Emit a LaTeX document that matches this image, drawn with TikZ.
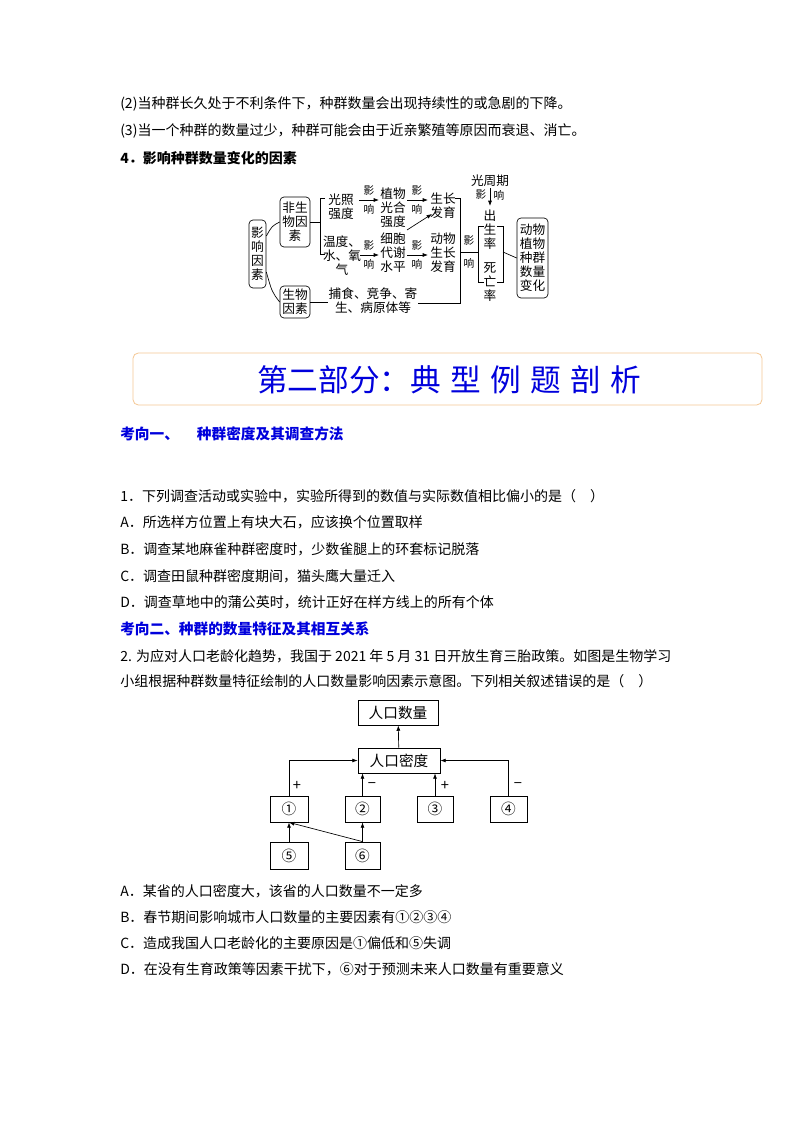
\documentclass[tikz,border=0pt]{standalone}
\usepackage{fontspec}
\setmainfont{Noto Sans CJK SC}
\usetikzlibrary{arrows.meta}
\definecolor{qblue}{RGB}{0,0,220}
\definecolor{bord}{RGB}{245,200,150}
\begin{document}
\begin{tikzpicture}[x=0.75pt,y=-0.75pt,
 body/.style={anchor=west,inner sep=0pt,font=\fontsize{10.5pt}{12pt}\selectfont},
 dg/.style={inner sep=0pt,align=center,font=\fontsize{9.5pt}{10.5pt}\selectfont},
 sm/.style={inner sep=0pt,font=\fontsize{8pt}{9pt}\selectfont},
 rb/.style={draw,rounded corners=3pt,line width=0.5pt,inner sep=0pt},
 bx/.style={draw,line width=0.6pt,minimum width=#1,minimum height=25*0.75pt,inner sep=0pt,font=\fontsize{11pt}{12pt}\selectfont},
 ar/.style={-{Latex[length=4pt,width=3pt]},line width=0.5pt},
 ln/.style={line width=0.5pt},
 pm/.style={inner sep=0pt,font=\fontsize{11pt}{12pt}\selectfont}]
\useasboundingbox (0,0) rectangle (800,1132);
\fill[white] (0,0) rectangle (800,1132);
\node[body] (l1) at (120,104) {(2)当种群长久处于不利条件下，种群数量会出现持续性的或急剧的下降。};
\node[body] (l2) at (120,131) {(3)当一个种群的数量过少，种群可能会由于近亲繁殖等原因而衰退、消亡。};
\node[body,font=\fontsize{10.5pt}{12pt}\selectfont\bfseries] (l3) at (120,158) {4．影响种群数量变化的因素};
% diagram 1
\node[rb,minimum width=17*0.75pt,minimum height=68*0.75pt,dg] (yx) at (257.5,254) {影\\响\\因\\素};
\node[rb,minimum width=30*0.75pt,minimum height=50*0.75pt,dg] (fs) at (295,222) {非生\\物因\\素};
\node[rb,minimum width=30*0.75pt,minimum height=32*0.75pt,dg] (sw) at (295,302) {生物\\因素};
\draw[ln] (yx.east) ++(0,-18) .. controls (272,226) .. (fs.west);
\draw[ln] (yx.east) ++(0,18) .. controls (272,292) .. (sw.west);
\coordinate (b1t) at (320,198); \coordinate (b1b) at (320,254);
\draw[ln] (fs.east) -- (320,222);
\draw[ln] (325,198) -- (b1t) -- (b1b) -- (325,254);
\node[dg] (gz) at (341,207) {光照\\强度};
\node[dg,anchor=north] (wd) at (342,236) {温度、\\水、氧\\气};
\node[dg] (zw) at (393,208) {植物\\光合\\强度};
\node[dg] (xb) at (393,253) {细胞\\代谢\\水平};
\node[dg] (sz) at (443,206) {生长\\发育};
\node[dg] (dw) at (443,253) {动物\\生长\\发育};
\draw[ar] (359,200) -- (379,200);
\node[sm] at (369,191) {影}; \node[sm] at (369,209) {响};
\draw[ar] (407,200) -- (428,200);
\node[sm] at (417,191) {影}; \node[sm] at (417,209) {响};
\draw[ar] (360,255) -- (379,255);
\node[sm] at (369,246) {影}; \node[sm] at (369,264) {响};
\draw[ar] (407,255) -- (428,255);
\node[sm] at (417,246) {影}; \node[sm] at (417,264) {响};
\draw[ar] (407,230) -- (432,214);
\node[dg] (bs) at (373,301) {捕食、竞争、寄\\生、病原体等};
\draw[ln] (sw.east) -- (328,302);
\draw[ln] (455,198) -- (460,198) -- (460,303) -- (418,303);
\coordinate (j1) at (460,252);
\draw[ln] (j1) -- (478,252);
\node[sm] at (469,241) {影}; \node[sm] at (469,263) {响};
\draw[ln] (484,226) -- (478,226) -- (478,282) -- (484,282);
\draw[ln] (497,226) -- (503,226) -- (503,282) -- (497,282);
\node[dg] (cs) at (490,230) {出\\生\\率};
\node[dg] (sw2) at (490,282) {死\\亡\\率};
\node[dg] (gzq) at (490,181) {光周期};
\node[sm] at (481,195) {影}; \node[sm] at (499,195) {响};
\draw[ar] (490,188) -- (490,206);
\node[rb,minimum width=31*0.75pt,minimum height=80*0.75pt,dg] (dz) at (532.5,258) {动物\\植物\\种群\\数量\\变化};
\draw[ln] (503,252) -- (dz.west);
% banner
\draw[bord,rounded corners=4pt,line width=0.6pt] (133,353) rectangle (762,405);
\node[text=qblue,font=\fontsize{23pt}{26pt}\selectfont] (ban) at (449,380) {第二部分：典\hspace{7pt}型\hspace{7pt}例\hspace{7pt}题\hspace{7pt}剖\hspace{7pt}析};
\node[body,text=qblue,font=\fontsize{11pt}{12pt}\selectfont\bfseries] (k1) at (120,434) {考向一、\quad\ 种群密度及其调查方法};
\node[body] (q1) at (120,496) {1．下列调查活动或实验中，实验所得到的数值与实际数值相比偏小的是（\quad）};
\node[body] (q1a) at (120,522) {A．所选样方位置上有块大石，应该换个位置取样};
\node[body] (q1b) at (120,549) {B．调查某地麻雀种群密度时，少数雀腿上的环套标记脱落};
\node[body] (q1c) at (120,576) {C．调查田鼠种群密度期间，猫头鹰大量迁入};
\node[body] (q1d) at (120,602) {D．调查草地中的蒲公英时，统计正好在样方线上的所有个体};
\node[body,text=qblue,font=\fontsize{11pt}{12pt}\selectfont\bfseries] (k2) at (120,629) {考向二、种群的数量特征及其相互关系};
\node[body] (q2) at (120,656) {2. 为应对人口老龄化趋势，我国于 2021 年 5 月 31 日开放生育三胎政策。如图是生物学习};
\node[body] (q2b) at (120,681) {小组根据种群数量特征绘制的人口数量影响因素示意图。下列相关叙述错误的是（\quad）};
% diagram 2
\node[bx=80*0.75pt] (sl) at (398,712.5) {人口数量};
\node[bx=82*0.75pt] (md) at (399,760.5) {人口密度};
\node[bx=38*0.75pt,minimum height=26*0.75pt] (n1) at (289,809) {①};
\node[bx=35*0.75pt,minimum height=26*0.75pt] (n2) at (362.5,809) {②};
\node[bx=36*0.75pt,minimum height=26*0.75pt] (n3) at (435,809) {③};
\node[bx=37*0.75pt,minimum height=26*0.75pt] (n4) at (508.5,809) {④};
\node[bx=38*0.75pt,minimum height=27*0.75pt] (n5) at (289,855.5) {⑤};
\node[bx=35*0.75pt,minimum height=27*0.75pt] (n6) at (362.5,855.5) {⑥};
\draw[ar] (md) -- (sl);
\draw[ar] (n1.north) |- (md.west);
\draw[ar] (n4.north) |- (md.east);
\draw[ar] (n2.north) -- (n2.north|-md.south);
\draw[ar] (n3.north) -- (n3.north|-md.south);
\draw[ar] (n5) -- (n1);
\draw[ar] (n6) -- (n2);
\draw[ar] (n6.north) -- (n1.south);
\node[pm] at (297,786) {+};
\node[pm] at (372,786) {−};
\node[pm] at (445,786) {+};
\node[pm] at (518,786) {−};
\node[body] (q2a) at (120,891) {A．某省的人口密度大，该省的人口数量不一定多};
\node[body] (q2bb) at (120,917) {B．春节期间影响城市人口数量的主要因素有①②③④};
\node[body] (q2c) at (120,943) {C．造成我国人口老龄化的主要原因是①偏低和⑤失调};
\node[body] (q2d) at (120,969) {D．在没有生育政策等因素干扰下，⑥对于预测未来人口数量有重要意义};
\end{tikzpicture}
\end{document}
